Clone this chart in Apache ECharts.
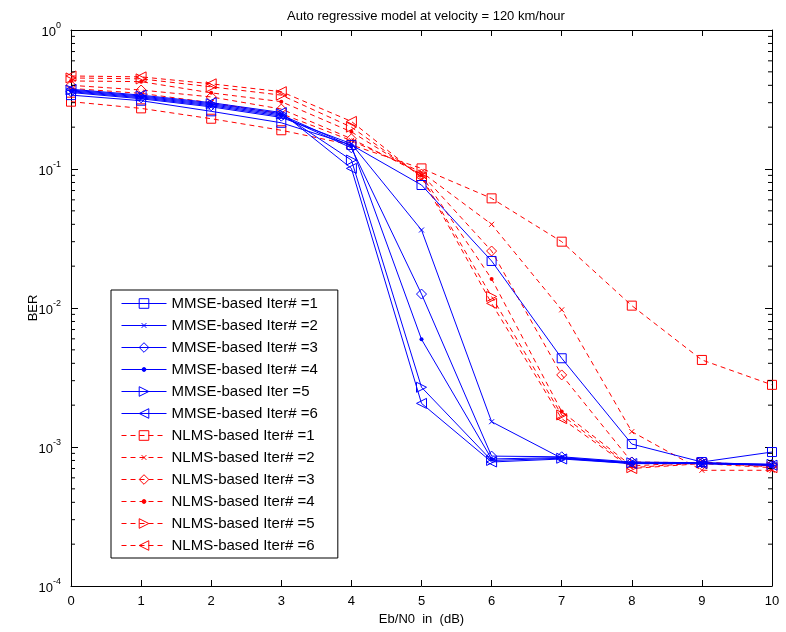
<!DOCTYPE html>
<html>
<head>
<meta charset="utf-8">
<script src="https://cdn.jsdelivr.net/npm/echarts@6/dist/echarts.min.js"></script>
<style>
  html, body { margin: 0; padding: 0; background: #fff; }
  #chart { width: 786px; height: 632px; }
</style>
</head>
<body>
<div id="chart"></div>
<script>
// Eb/N0 in dB
const ebn0 = [0, 1, 2, 3, 4, 5, 6, 7, 8, 9, 10];

// BER, MMSE-based channel estimation
const mmse1 = [0.34, 0.31, 0.26, 0.215, 0.149, 0.0767, 0.0218, 0.00435, 0.00105, 0.00078, 0.00092];
const mmse2 = [0.355, 0.32, 0.28, 0.235, 0.152, 0.0364, 0.00152, 0.00083, 0.00076, 0.00076, 0.00074];
const mmse3 = [0.36, 0.325, 0.285, 0.24, 0.142, 0.0126, 0.00086, 0.00085, 0.00078, 0.00077, 0.00075];
const mmse4 = [0.365, 0.33, 0.29, 0.245, 0.146, 0.00595, 0.00082, 0.00084, 0.00077, 0.00076, 0.00074];
const mmse5 = [0.37, 0.335, 0.295, 0.25, 0.116, 0.00269, 0.0008, 0.00083, 0.00077, 0.00077, 0.00075];
const mmse6 = [0.375, 0.34, 0.30, 0.255, 0.101, 0.00206, 0.00078, 0.00082, 0.00076, 0.00076, 0.00074];

// BER, NLMS-based channel estimation
const nlms1 = [0.305, 0.273, 0.23, 0.19, 0.149, 0.101, 0.0615, 0.030, 0.0104, 0.00423, 0.0028];
const nlms2 = [0.38, 0.35, 0.30, 0.25, 0.16, 0.095, 0.040, 0.0097, 0.00129, 0.00068, 0.00068];
const nlms3 = [0.40, 0.37, 0.33, 0.27, 0.165, 0.092, 0.0257, 0.0033, 0.00078, 0.00077, 0.00074];
const nlms4 = [0.43, 0.425, 0.353, 0.305, 0.185, 0.09, 0.0162, 0.0018, 0.00073, 0.00078, 0.00073];
const nlms5 = [0.452, 0.445, 0.39, 0.34, 0.20, 0.088, 0.0121, 0.0017, 0.00071, 0.00077, 0.00072];
const nlms6 = [0.467, 0.46, 0.41, 0.36, 0.22, 0.087, 0.0108, 0.0016, 0.0007, 0.00076, 0.00071];

const seriesNames = [
  'MMSE-based Iter# =1', 'MMSE-based Iter# =2', 'MMSE-based Iter# =3',
  'MMSE-based Iter# =4', 'MMSE-based Iter =5', 'MMSE-based Iter# =6',
  'NLMS-based Iter# =1', 'NLMS-based Iter# =2', 'NLMS-based Iter# =3',
  'NLMS-based Iter# =4', 'NLMS-based Iter# =5', 'NLMS-based Iter# =6'
];
const seriesValues = [mmse1, mmse2, mmse3, mmse4, mmse5, mmse6,
                      nlms1, nlms2, nlms3, nlms4, nlms5, nlms6];

// decade range of the log axis
const yMin = 1e-4;
const yMax = 1;

const BLUE = '#0000ff';
const RED = '#ff0000';
const FONT = 'Liberation Sans, Arial, sans-serif';

// marker shapes (outlined, MATLAB style); the cross and the dot sit inside a
// 10x10 box so they stay small next to the other markers
const markers = [
  { symbol: 'path://M0,0H10V10H0Z', size: 9 },
  { symbol: 'path://M0,0M10,10M2.5,2.5L7.5,7.5M7.5,2.5L2.5,7.5', size: 10 },
  { symbol: 'path://M5,0L10,5L5,10L0,5Z', size: 10 },
  { symbol: 'path://M0,0M10,10M3,5A2,2,0,1,0,7,5A2,2,0,1,0,3,5Z', size: 10, filled: true },
  { symbol: 'path://M0,0L10,5L0,10Z', size: 10 },
  { symbol: 'path://M10,0L0,5L10,10Z', size: 10 }
];

const lineSeries = seriesNames.map((name, i) => {
  const isMmse = i < 6;
  const color = isMmse ? BLUE : RED;
  const m = markers[i % 6];
  return {
    name: name,
    type: 'line',
    data: ebn0.map((x, k) => [x, seriesValues[i][k]]),
    symbol: m.symbol,
    symbolSize: m.size,
    showSymbol: true,
    animation: false,
    lineStyle: { color: color, width: 1, type: isMmse ? 'solid' : [5, 4] },
    itemStyle: {
      color: m.filled ? color : 'rgba(0,0,0,0)',
      borderColor: color,
      borderWidth: m.filled ? 0 : 1
    },
    emphasis: { disabled: true },
    z: isMmse ? 3 : 2
  };
});

// minor ticks at 2..9 within each decade, on the left and right frame
const minorTickValues = [];
for (let e = -4; e < 0; e++) {
  for (let k = 2; k <= 9; k++) minorTickValues.push(k * Math.pow(10, e));
}
const minorTicks = {
  type: 'custom',
  silent: true,
  animation: false,
  clip: false,
  data: minorTickValues.map(v => [0, v]),
  renderItem: function (params, api) {
    const v = api.value(1);
    const pL = api.coord([0, v]);
    const pR = api.coord([10, v]);
    const len = 4;
    return {
      type: 'group',
      children: [
        { type: 'line', shape: { x1: pL[0], y1: pL[1], x2: pL[0] + len, y2: pL[1] }, style: { stroke: '#000', lineWidth: 1 } },
        { type: 'line', shape: { x1: pR[0], y1: pR[1], x2: pR[0] - len, y2: pR[1] }, style: { stroke: '#000', lineWidth: 1 } }
      ]
    };
  },
  z: 5
};

const axisText = { color: '#000', fontFamily: FONT, fontSize: 13 };

const chart = echarts.init(document.getElementById('chart'), null, { renderer: 'canvas' });
chart.setOption({
  backgroundColor: '#fff',
  animation: false,
  title: {
    text: 'Auto regressive model at velocity = 120 km/hour',
    left: 421, top: 5, textAlign: 'center',
    textStyle: { color: '#000', fontFamily: FONT, fontSize: 13, fontWeight: 'normal' }
  },
  grid: { left: 71, right: 14, top: 30, bottom: 46 },
  legend: {
    data: seriesNames,
    orient: 'vertical',
    left: 111, top: 290,
    padding: [6, 20, 5, 10],
    itemWidth: 45, itemHeight: 12, itemGap: 7,
    backgroundColor: '#fff',
    borderColor: '#000', borderWidth: 1,
    lineStyle: { width: 1 },
    itemStyle: { borderWidth: 1 },
    textStyle: { color: '#000', fontFamily: FONT, fontSize: 15 },
    selectedMode: false
  },
  xAxis: [
    {
      type: 'value', min: 0, max: 10, interval: 1, position: 'bottom',
      name: 'Eb/N0  in  (dB)', nameLocation: 'middle', nameGap: 23,
      nameTextStyle: axisText,
      axisLine: { show: true, onZero: false, lineStyle: { color: '#000', width: 1 } },
      axisTick: { inside: true, length: 6, lineStyle: { color: '#000' } },
      axisLabel: Object.assign({ margin: 9 }, axisText),
      splitLine: { show: false }
    },
    {
      type: 'value', min: 0, max: 10, interval: 1, position: 'top',
      axisLine: { show: true, onZero: false, lineStyle: { color: '#000', width: 1 } },
      axisTick: { inside: true, length: 6, lineStyle: { color: '#000' } },
      axisLabel: { show: false },
      splitLine: { show: false }
    }
  ],
  yAxis: [
    {
      type: 'log', logBase: 10, min: yMin, max: yMax, position: 'left',
      name: 'BER', nameLocation: 'middle', nameGap: 31, nameMoveOverlap: false,
      nameTextStyle: axisText,
      axisLine: { show: true, onZero: false, lineStyle: { color: '#000', width: 1 } },
      axisTick: { inside: true, length: 7, lineStyle: { color: '#000' } },
      axisLabel: {
        margin: 10,
        formatter: function (v) {
          return '{b|10}{s|' + Math.round(Math.log10(v)) + '}';
        },
        rich: {
          b: { fontFamily: FONT, fontSize: 13, color: '#000', verticalAlign: 'bottom' },
          s: { fontFamily: FONT, fontSize: 9, color: '#000', verticalAlign: 'bottom', padding: [0, 0, 8, 0] }
        }
      },
      splitLine: { show: false }
    },
    {
      type: 'log', logBase: 10, min: yMin, max: yMax, position: 'right',
      axisLine: { show: true, onZero: false, lineStyle: { color: '#000', width: 1 } },
      axisTick: { inside: true, length: 7, lineStyle: { color: '#000' } },
      axisLabel: { show: false },
      splitLine: { show: false }
    }
  ],
  series: lineSeries.concat([minorTicks])
});
</script>
</body>
</html>
